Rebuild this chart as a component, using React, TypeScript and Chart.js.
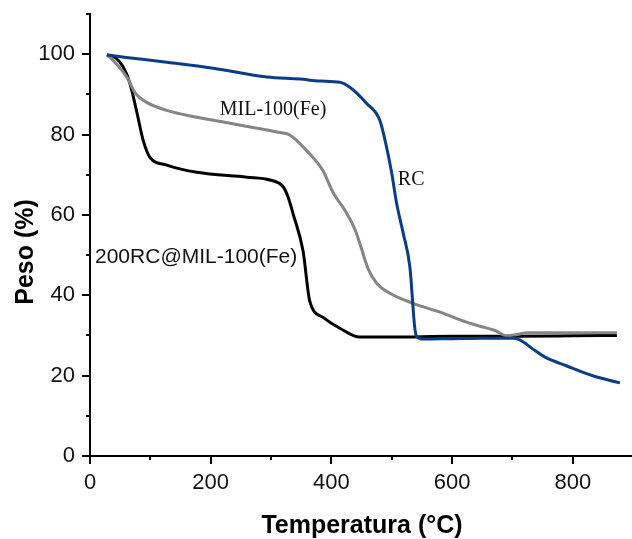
import React, { useEffect, useRef } from "react";
import { Chart, registerables } from "chart.js";

Chart.register(...registerables);

// RC (blue)
const rcT = [28, 60, 127, 204, 293, 348, 381, 414, 431, 458, 480, 490, 500, 508, 519, 530, 538, 541, 552, 600, 650, 701, 712, 734, 754, 790, 834, 878];
const rcW = [99.8, 99.2, 98, 96.5, 94.3, 93.8, 93.3, 93, 91.7, 87.8, 83.6, 77.8, 70.3, 62.9, 55.4, 47, 32, 29.8, 29.1, 29.2, 29.3, 29.3, 28.9, 26.6, 24.6, 22.4, 19.9, 18.2];

// MIL-100(Fe) (gray)
const milT = [28, 38, 61, 75, 94, 127, 177, 232, 298, 315, 331, 359, 386, 403, 425, 440, 450, 461, 475, 497, 535, 580, 624, 646, 670, 691, 710, 724, 800, 873];
const milW = [99.8, 98.5, 94.3, 90.3, 88, 86, 84.3, 82.8, 81, 80.5, 79.9, 76, 71, 65.5, 60.5, 56, 51.5, 46.5, 43, 40.5, 38, 35.8, 33.3, 32.3, 31.3, 29.9, 30.3, 30.7, 30.7, 30.7];

// 200RC@MIL-100(Fe) (black)
const compT = [28, 38, 55, 66, 78, 88, 99, 127, 177, 260, 298, 320, 328, 337, 353, 364, 386, 414, 447, 500, 600, 700, 800, 873];
const compW = [99.8, 99.5, 96.8, 92.8, 85.3, 78.6, 74.4, 72.4, 70.6, 69.4, 68.7, 67, 64.5, 60, 51, 38.6, 34.5, 31.8, 29.6, 29.6, 29.8, 29.8, 29.9, 30];

const xTickValues = [0, 200, 400, 600, 800];
const yTickValues = [0, 20, 40, 60, 80, 100];

const labels = [
  { text: "MIL-100(Fe)", x: 215, y: 84.9, font: '20px "Liberation Serif", "Times New Roman", serif' },
  { text: "RC", x: 510, y: 67.4, font: '20px "Liberation Serif", "Times New Roman", serif' },
  { text: "200RC@MIL-100(Fe)", x: 8.3, y: 48, font: '21px "Liberation Sans", Arial, sans-serif' },
];

const toPts = (xs: number[], ys: number[]) => xs.map((x, i) => ({ x, y: ys[i] }));

const extrasPlugin = {
  id: "extras",
  afterDraw(chart: any) {
    const ctx = chart.ctx;
    const xs = chart.scales.x;
    const ys = chart.scales.y;
    const area = chart.chartArea;
    ctx.save();
    ctx.strokeStyle = "#000";
    ctx.lineWidth = 2;
    for (let v = 0; v <= 110; v += 10) {
      const y = Math.round(ys.getPixelForValue(v));
      const len = v % 20 === 0 ? 8 : 4;
      ctx.beginPath();
      ctx.moveTo(area.left - len, y);
      ctx.lineTo(area.left, y);
      ctx.stroke();
    }
    for (let v = 0; v <= 800; v += 100) {
      const x = Math.round(xs.getPixelForValue(v));
      const len = v % 200 === 0 ? 8 : 4;
      ctx.beginPath();
      ctx.moveTo(x, area.bottom);
      ctx.lineTo(x, area.bottom + len);
      ctx.stroke();
    }
    ctx.fillStyle = "#000";
    ctx.font = 'bold 25px "Liberation Sans", Arial, sans-serif';
    ctx.textAlign = "center";
    ctx.textBaseline = "alphabetic";
    ctx.fillText("Temperatura (°C)", (area.left + area.right) / 2 + 1, 533);
    ctx.save();
    ctx.translate(33, 252);
    ctx.rotate(-Math.PI / 2);
    ctx.fillText("Peso (%)", 0, 0);
    ctx.restore();
    ctx.textAlign = "left";
    for (const l of labels) {
      ctx.font = l.font;
      ctx.fillStyle = "#111";
      ctx.fillText(l.text, xs.getPixelForValue(l.x), ys.getPixelForValue(l.y));
    }
    ctx.restore();
  },
};

export default function App() {
  const ref = useRef<HTMLCanvasElement>(null);
  useEffect(() => {
    document.body.style.margin = "0";
    const tickFont = { family: '"Liberation Sans", Arial, sans-serif', size: 22 };
    const chart = new Chart(ref.current as HTMLCanvasElement, {
      type: "scatter",
      data: {
        datasets: [
          { label: "RC", data: toPts(rcT, rcW), borderColor: "#0a3d86", borderWidth: 3, showLine: true, pointRadius: 0, cubicInterpolationMode: "monotone" },
          { label: "MIL-100(Fe)", data: toPts(milT, milW), borderColor: "#858585", borderWidth: 3, showLine: true, pointRadius: 0, cubicInterpolationMode: "monotone" },
          { label: "200RC@MIL-100(Fe)", data: toPts(compT, compW), borderColor: "#000000", borderWidth: 3, showLine: true, pointRadius: 0, cubicInterpolationMode: "monotone" },
        ],
      } as any,
      options: {
        responsive: false,
        animation: false,
        layout: { padding: { top: 14, right: 0, left: 0, bottom: 0 } },
        plugins: { legend: { display: false }, tooltip: { enabled: false } },
        scales: {
          x: {
            type: "linear",
            min: 0,
            max: 898,
            grid: { display: false, drawTicks: false },
            border: { display: true, color: "#000", width: 2 },
            ticks: { stepSize: 200, padding: 14, color: "#111", font: tickFont, maxRotation: 0 },
            afterBuildTicks: (s: any) => { s.ticks = xTickValues.map((v) => ({ value: v })); },
            afterFit: (s: any) => { s.height = 83; s.paddingLeft = 0; s.paddingRight = 0; },
          },
          y: {
            type: "linear",
            min: 0,
            max: 110,
            grid: { display: false, drawTicks: false },
            border: { display: true, color: "#000", width: 2 },
            ticks: { stepSize: 20, padding: 15, color: "#111", font: tickFont },
            afterBuildTicks: (s: any) => { s.ticks = yTickValues.map((v) => ({ value: v })); },
            afterFit: (s: any) => { s.width = 90; s.paddingTop = 0; s.paddingBottom = 0; },
          },
        },
      } as any,
      plugins: [extrasPlugin],
    });
    return () => chart.destroy();
  }, []);
  return (
    <div style={{ width: 632, height: 539 }}>
      <canvas ref={ref} width={632} height={539} />
    </div>
  );
}
